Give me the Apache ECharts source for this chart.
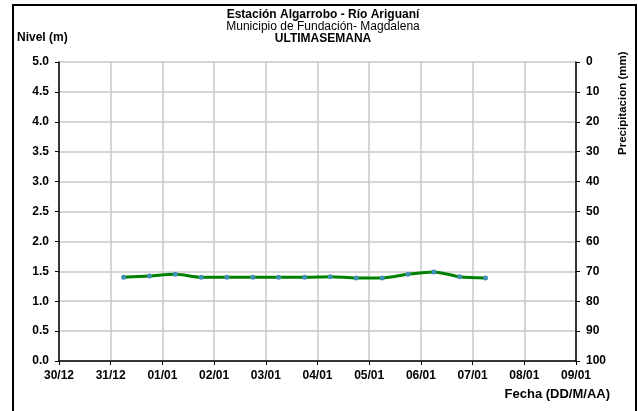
<!DOCTYPE html>
<html>
<head>
<meta charset="utf-8">
<script src="https://cdn.jsdelivr.net/npm/echarts@6/dist/echarts.min.js"></script>
<style>
  html, body { margin: 0; padding: 0; background: #fff; }
  #chart { width: 638px; height: 411px; }
</style>
</head>
<body>
<div id="chart"></div>
<script>
// etiquetas del eje de fechas (un dia por tick, desde 30/12)
var tickLabels = ['30/12', '31/12', '01/01', '02/01', '03/01', '04/01', '05/01', '06/01', '07/01', '08/01', '09/01'];
// posicion de cada lectura en dias desde 30/12 (06:00 y 18:00)
var dayOffsets = [1.25, 1.75, 2.25, 2.75, 3.25, 3.75, 4.25, 4.75, 5.25, 5.75, 6.25, 6.75, 7.25, 7.75, 8.25];
// nivel del rio (m)
var nivel = [1.40, 1.42, 1.45, 1.40, 1.40, 1.40, 1.40, 1.40, 1.41, 1.39, 1.39, 1.45, 1.49, 1.41, 1.39];

var chartDom = document.getElementById('chart');
var myChart = echarts.init(chartDom);

var font = 'Liberation Sans, Arial, sans-serif';
var points = dayOffsets.map(function (d, i) { return [d, nivel[i]]; });

var option = {
  animation: false,
  backgroundColor: '#fff',
  textStyle: { fontFamily: font },
  grid: { left: 59, right: 62, top: 62, bottom: 50 },
  graphic: [
    {
      type: 'rect', silent: true,
      shape: { x: 13, y: 5, width: 623, height: 420 },
      style: { fill: 'none', stroke: '#000', lineWidth: 2 }
    },
    {
      type: 'text', x: 323, y: 9, silent: true,
      style: { text: 'Estación Algarrobo - Río Ariguaní', font: 'bold 12px ' + font, fill: '#000', textAlign: 'center' }
    },
    {
      type: 'text', x: 323, y: 21, silent: true,
      style: { text: 'Municipio de Fundación- Magdalena', font: '12px ' + font, fill: '#000', textAlign: 'center' }
    },
    {
      type: 'text', x: 323, y: 33, silent: true,
      style: { text: 'ULTIMASEMANA', font: 'bold 12px ' + font, fill: '#000', textAlign: 'center' }
    },
    {
      type: 'text', x: 17, y: 32, silent: true,
      style: { text: 'Nivel (m)', font: 'bold 12px ' + font, fill: '#000' }
    },
    {
      type: 'text', x: 617, y: 155, rotation: Math.PI / 2, silent: true,
      style: { text: 'Precipitacion (mm)', font: 'bold 11.5px ' + font, fill: '#000' }
    },
    {
      type: 'text', x: 610, y: 388, silent: true,
      style: { text: 'Fecha (DD/M/AA)', font: 'bold 13px ' + font, fill: '#000', textAlign: 'right' }
    }
  ],
  xAxis: {
    type: 'value',
    min: 0,
    max: 10,
    interval: 1,
    axisLine: { lineStyle: { color: '#000', width: 1.5 } },
    axisTick: { show: true, length: 4, lineStyle: { color: '#000' } },
    axisLabel: {
      color: '#000', fontWeight: 'bold', fontSize: 12, margin: 9,
      formatter: function (v) { return tickLabels[v]; }
    },
    splitLine: { show: true, lineStyle: { color: '#c8c8c8', width: 1.5 } }
  },
  yAxis: [
    {
      type: 'value',
      min: 0,
      max: 5,
      interval: 0.5,
      position: 'left',
      axisLine: { show: true, lineStyle: { color: '#000', width: 1.5 } },
      axisTick: { show: true, length: 4, lineStyle: { color: '#000' } },
      axisLabel: {
        color: '#000', fontWeight: 'bold', fontSize: 12, margin: 10,
        formatter: function (v) { return v.toFixed(1); }
      },
      splitLine: { show: true, lineStyle: { color: '#c8c8c8', width: 1.5 } }
    },
    {
      type: 'value',
      min: 0,
      max: 100,
      interval: 10,
      inverse: true,
      position: 'right',
      axisLine: { show: true, lineStyle: { color: '#000', width: 1.5 } },
      axisTick: { show: true, length: 4, lineStyle: { color: '#000' } },
      axisLabel: { color: '#000', fontWeight: 'bold', fontSize: 12, margin: 10 },
      splitLine: { show: false }
    }
  ],
  series: [
    {
      name: 'Nivel',
      type: 'line',
      yAxisIndex: 0,
      data: points,
      smooth: 0.3,
      symbol: 'circle',
      symbolSize: 5,
      lineStyle: { color: '#008000', width: 3 },
      itemStyle: { color: '#3f92b5' },
      z: 3
    }
  ]
};
option && myChart.setOption(option);
</script>
</body>
</html>
